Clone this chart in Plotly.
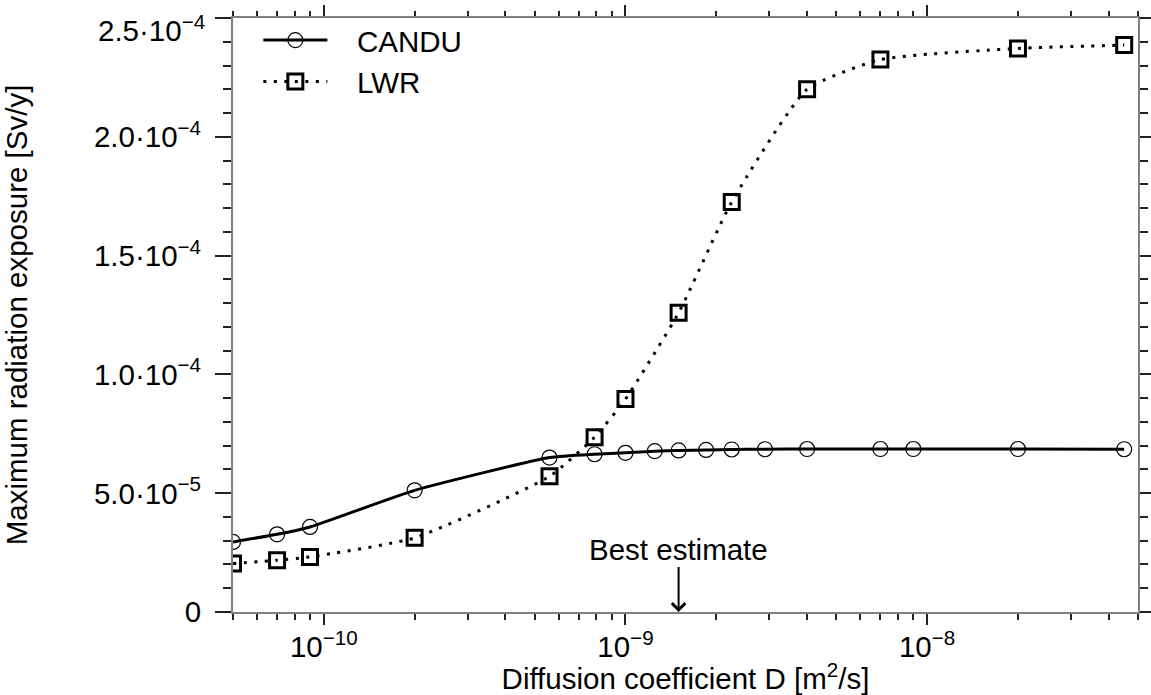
import numpy as np
import plotly.graph_objects as go

# ---- data ----
candu_D = [5e-11, 7e-11, 9e-11, 2e-10, 5.6e-10, 7.9e-10, 1e-9, 1.25e-9, 1.5e-9,
           1.85e-9, 2.25e-9, 2.9e-9, 4e-9, 7e-9, 9e-9, 2e-8, 4.5e-8]
candu_dose = [2.95e-5, 3.27e-5, 3.58e-5, 5.12e-5, 6.50e-5, 6.64e-5, 6.70e-5, 6.77e-5, 6.80e-5,
              6.82e-5, 6.84e-5, 6.85e-5, 6.86e-5, 6.86e-5, 6.86e-5, 6.86e-5, 6.85e-5]

lwr_D = [5e-11, 7e-11, 9e-11, 2e-10, 5.6e-10, 7.9e-10, 1e-9, 1.5e-9, 2.25e-9,
         4e-9, 7e-9, 2e-8, 4.5e-8]
lwr_dose = [2.04e-5, 2.18e-5, 2.32e-5, 3.12e-5, 5.71e-5, 7.36e-5, 8.96e-5, 1.259e-4, 1.726e-4,
            2.20e-4, 2.325e-4, 2.372e-4, 2.386e-4]

x_tickvals = [1e-10, 1e-9, 1e-8]
x_ticktext = ["10<sup>\u221210</sup>", "10<sup>\u22129</sup>", "10<sup>\u22128</sup>"]
y_tickvals = [0, 5e-5, 1e-4, 1.5e-4, 2e-4, 2.5e-4]
y_ticktext = ["0", "5.0\u00b710<sup>\u22125</sup>", "1.0\u00b710<sup>\u22124</sup>",
              "1.5\u00b710<sup>\u22124</sup>", "2.0\u00b710<sup>\u22124</sup>",
              "2.5\u00b710<sup>\u22124</sup>"]
best_estimate = 1.5e-9

minor_x = [m * 10.0 ** e for e in (-11, -10, -9, -8) for m in range(2, 10)]

FONT = "Liberation Sans, Arial, sans-serif"
FS = 29.5
PAD = "\u00a0\u00a0\u00a0"
Y_LABEL_STANDOFF = 8
Y_TICKLEN = 16

fig = go.Figure()
fig.add_trace(go.Scatter(
    x=candu_D, y=candu_dose, name=PAD + "CANDU", mode="lines+markers",
    line=dict(color="black", width=3, shape="spline", smoothing=0.5),
    marker=dict(symbol="circle-open", size=15, color="black", line=dict(width=1.2, color="black")),
))
fig.add_trace(go.Scatter(
    x=lwr_D, y=lwr_dose, name=PAD + "LWR", mode="lines+markers",
    line=dict(color="black", width=3, dash="3px,7.5px", shape="spline", smoothing=0.5),
    marker=dict(symbol="square-open", size=15, color="black", line=dict(width=3, color="black")),
))

fig.add_annotation(
    x=np.log10(best_estimate), y=0, xref="x", yref="y",
    text="Best estimate", showarrow=True, ax=0, ay=-63,
    arrowhead=4, arrowsize=1.3, arrowwidth=2, arrowcolor="black",
    font=dict(size=FS, color="black", family=FONT),
)

# the top y tick label sits slightly lower than its tick in the reference
shown_y_text = list(y_ticktext)
shown_y_text[-1] = ""
fig.add_annotation(
    x=0, xref="paper", y=y_tickvals[-1], yref="y", xanchor="right", yanchor="middle",
    xshift=-(Y_TICKLEN + Y_LABEL_STANDOFF + 2), yshift=-10, showarrow=False,
    text=y_ticktext[-1], font=dict(size=FS, color="black", family=FONT),
)

axis_common = dict(
    showgrid=False, zeroline=False, showline=True, linecolor="#808080", linewidth=2,
    mirror="ticks", ticks="outside", tickcolor="#222222", tickwidth=1.5,
    tickfont=dict(size=FS, color="black", family=FONT), ticklabeloverflow="allow",
)

fig.update_xaxes(
    type="log", range=[np.log10(5e-11), np.log10(5e-8)],
    tickvals=x_tickvals, ticktext=x_ticktext, ticklen=11, ticklabelstandoff=-3,
    minor=dict(tickvals=minor_x, ticks="outside", ticklen=5.5, tickcolor="#222222", tickwidth=1.5),
    title=dict(text="Diffusion coefficient D [m<sup>2</sup>/s]", standoff=8,
               font=dict(size=FS, color="black", family=FONT)),
    **axis_common,
)
fig.update_yaxes(
    range=[0, 2.5e-4], tickvals=y_tickvals, ticktext=shown_y_text, ticklen=Y_TICKLEN,
    ticklabelstandoff=Y_LABEL_STANDOFF,
    minor=dict(dtick=1e-5, ticks="outside", ticklen=8, tickcolor="#222222", tickwidth=1.5),
    title=dict(text="Maximum radiation exposure [Sv/y]", standoff=68,
               font=dict(size=FS, color="black", family=FONT)),
    **axis_common,
)

fig.update_layout(
    width=1151, height=695,
    margin=dict(l=233, r=13, t=18, b=83, autoexpand=False),
    plot_bgcolor="white", paper_bgcolor="white",
    font=dict(family=FONT, size=FS, color="black"),
    showlegend=True,
    legend=dict(x=0.028, y=1.006, xanchor="left", yanchor="top", bgcolor="rgba(0,0,0,0)",
                font=dict(size=FS, color="black", family=FONT), itemwidth=64,
                tracegroupgap=0),
)

fig.write_html("out.html")
